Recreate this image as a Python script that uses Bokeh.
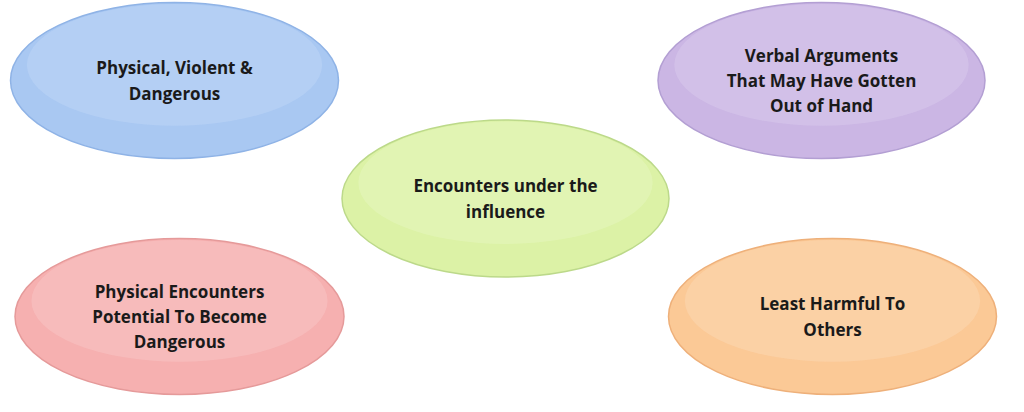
from bokeh.plotting import figure
from bokeh.models import Range1d
from bokeh.embed import file_html
from bokeh.resources import INLINE
from bokeh.core.properties import value

labels = ["Physical, Violent &\nDangerous",
          "Verbal Arguments\nThat May Have Gotten\nOut of Hand",
          "Encounters under the\ninfluence",
          "Physical Encounters\nPotential To Become\nDangerous",
          "Least Harmful To\nOthers"]
cx = [174, 821, 505, 179, 832]
cy = [80, 80, 198, 316, 316]
ew = [328, 327, 327, 329, 328]
eh = [156, 156, 157, 156, 156]
fills = ["#a9c8f2", "#cbb6e4", "#dcf2a6", "#f6b0b0", "#fbc996"]
lights = ["#c9ddf8", "#e0d3f1", "#ecf9cb", "#fad0d0", "#fde0c2"]
lines = ["#8fb3e6", "#b39fd3", "#bcd98a", "#e59a9a", "#eeb07a"]

p = figure(width=1008, height=396, x_range=Range1d(0, 1008), y_range=Range1d(396, 0),
           output_backend="svg", toolbar_location=None, min_border=0)
p.axis.visible = False
p.grid.visible = False
p.outline_line_color = None

p.ellipse(x=cx, y=cy, width=ew, height=eh, fill_color=fills, line_color=lines, line_width=1.5)
p.ellipse(x=cx, y=[c - e * 0.1 for c, e in zip(cy, eh)], width=[w * 0.9 for w in ew],
          height=[h * 0.78 for h in eh], fill_color=lights, fill_alpha=0.35, line_color=None)
p.text(x=cx, y=cy, text=labels, text_align="center", text_baseline="middle",
       text_font=value("Open Sans"), text_font_style="bold", text_font_size="17px",
       text_color="#1a1a1a", text_line_height=1.1)

open("out.html", "w").write(file_html(p, INLINE))
